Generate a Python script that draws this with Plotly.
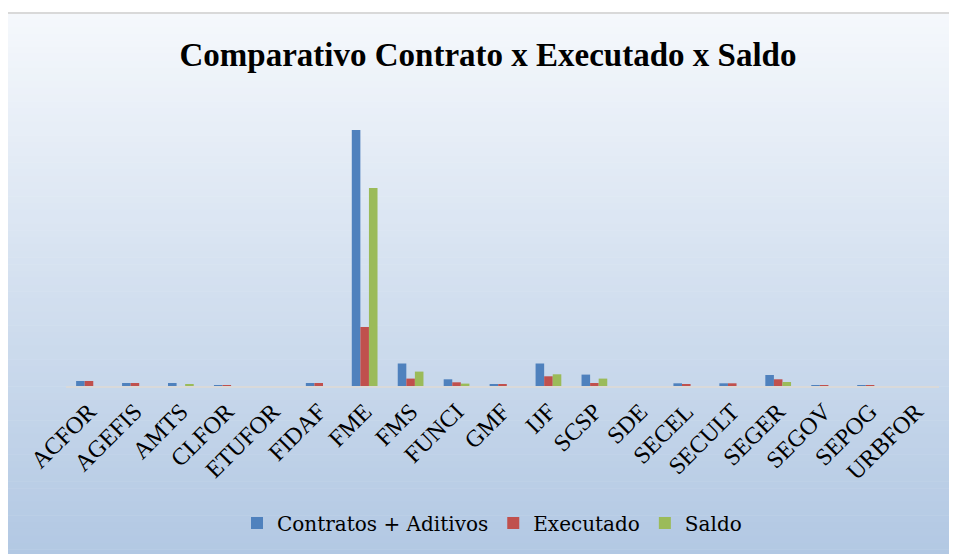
import plotly.graph_objects as go

categories = ["ACFOR", "AGEFIS", "AMTS", "CLFOR", "ETUFOR", "FIDAF", "FME", "FMS", "FUNCI", "GMF",
              "IJF", "SCSP", "SDE", "SECEL", "SECULT", "SEGER", "SEGOV", "SEPOG", "URBFOR"]
contratos = [5, 3, 3, 0.6, 0, 3, 256, 22.5, 6.7, 2, 22.5, 11.4, 0, 2.7, 2.7, 11, 1, 1, 0]
executado = [5, 3, 0, 0.8, 0, 3, 59, 7.4, 3.7, 1.7, 9.7, 3, 0, 2, 2.7, 6.7, 1, 1, 0]
saldo = [0, 0, 2, 0, 0, 0, 198, 14.4, 2.4, 0, 11.7, 7.4, 0, 0, 0, 4, 0, 0, 0]

# the page body adds an 8px offset, so the figure is drawn 8px smaller and shifted
OFF = 8
W, H = 957 - OFF, 554 - OFF
ML, MR, MT, MB = 66 - OFF, 18, 86 - OFF, 168
PW, PH = W - ML - MR, H - MT - MB


def px_x(x):  # x in reference-picture pixels
    return (x - OFF - ML) / PW


def px_y(y):
    return (H - MB - (y - OFF)) / PH


fig = go.Figure()
fig.add_bar(x=categories, y=contratos, name="Contratos + Aditivos", marker=dict(color="#4f81bd", line=dict(width=0)))
fig.add_bar(x=categories, y=executado, name="Executado", marker=dict(color="#c0504d", line=dict(width=0)))
fig.add_bar(x=categories, y=saldo, name="Saldo", marker=dict(color="#9bbb59", line=dict(width=0)))

# gradient background
shapes = []
top_px, bot_px = 13, 556
n = 80
c0 = (0xf5, 0xf8, 0xfc)
c1 = (0xb2, 0xc8, 0xe3)
for i in range(n):
    t = i / (n - 1)
    col = tuple(round(c0[k] + (c1[k] - c0[k]) * t) for k in range(3))
    y0 = top_px + (bot_px - top_px) * i / n
    y1 = top_px + (bot_px - top_px) * (i + 1) / n + 0.5
    shapes.append(dict(type="rect", xref="paper", yref="paper", layer="below",
                       x0=px_x(OFF - 2), x1=px_x(960),
                       y0=px_y(y1), y1=px_y(y0),
                       fillcolor="rgb(%d,%d,%d)" % col, line=dict(width=0)))
# top border
shapes.append(dict(type="line", xref="paper", yref="paper", layer="below",
                   x0=px_x(OFF - 2), x1=px_x(960), y0=px_y(top_px), y1=px_y(top_px),
                   line=dict(color="#d9d9d9", width=2)))

fig.update_layout(
    width=W, height=H,
    margin=dict(l=ML, r=MR, t=MT, b=MB, autoexpand=False),
    paper_bgcolor="white", plot_bgcolor="rgba(0,0,0,0)",
    barmode="group", bargap=0.44, bargroupgap=0,
    shapes=shapes,
    title=dict(text="<b>Comparativo Contrato x Executado x Saldo</b>", x=(488 - OFF) / W, xanchor="center",
               y=1 - (54 - OFF) / H, yanchor="middle", automargin=False,
               font=dict(family="Liberation Serif", size=33, color="black")),
    legend=dict(orientation="h", x=px_x(492), xanchor="center", y=px_y(523), yanchor="middle",
                font=dict(family="DejaVu Serif", size=20, color="black"), bgcolor="rgba(0,0,0,0)",
                itemwidth=30, tracegroupgap=0),
    xaxis=dict(showline=True, linecolor="#d9d9d9", linewidth=2, ticks="", tickangle=-45, automargin=False,
               tickfont=dict(family="Liberation Serif", size=24, color="black"), showgrid=False),
    yaxis=dict(range=[0, 300], visible=False, showgrid=False, zeroline=False, automargin=False),
)
fig.write_html("out.html")
